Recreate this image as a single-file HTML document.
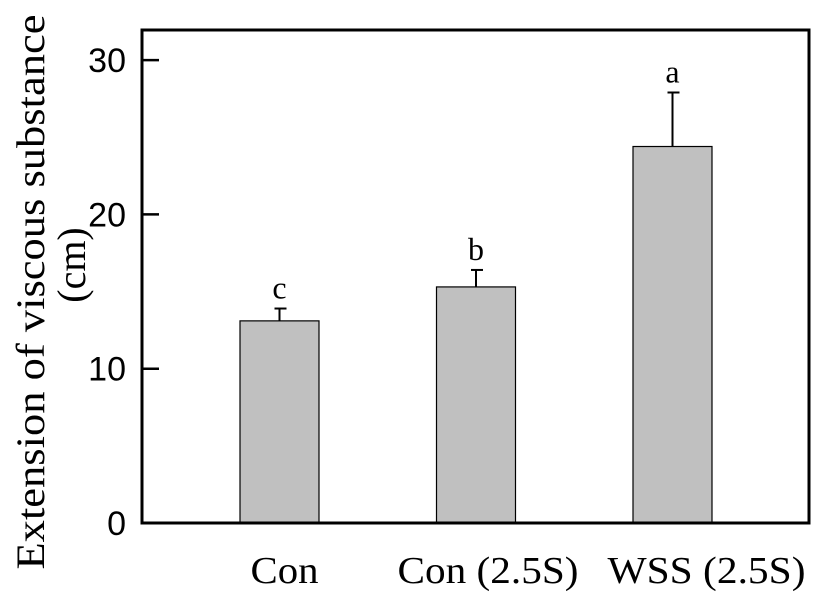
<!DOCTYPE html>
<html><head><meta charset="utf-8"><style>
html,body{margin:0;padding:0;background:#fff;}
svg{display:block;}
</style></head><body>
<svg width="827" height="606" viewBox="0 0 827 606" id="chart">
<rect x="0" y="0" width="827" height="606" fill="#fff"/>
<g id="bars"></g>
<g id="yaxis"></g>
<g id="xaxis"></g>
<rect x="142" y="30" width="667" height="493" fill="none" stroke="#000" stroke-width="3"/>
<text transform="translate(44,292) rotate(-90)" text-anchor="middle" font-family="Liberation Serif, serif" font-size="40" textLength="555" lengthAdjust="spacingAndGlyphs" fill="#000">Extension of viscous substance</text>
<text transform="translate(85,265) rotate(-90)" text-anchor="middle" font-family="Liberation Serif, serif" font-size="40" fill="#000">(cm)</text>
</svg>
<script>
const categories = ["Con", "Con (2.5S)", "WSS (2.5S)"];
const means = [13.1, 15.3, 24.4];
const errors = [0.8, 1.1, 3.5];
const letters = ["c", "b", "a"];
const yTicks = [0, 10, 20, 30];

const NS = "http://www.w3.org/2000/svg";
const y0 = 523, pxPerUnit = 15.43;
function yScale(v){ return y0 - v * pxPerUnit; }
const centers0 = 279.5, step = 196.5, barW = 79;
function xScale(i){ return centers0 + i * step; }
const labelShift = [5, 12, 34];
const labelLen = [68, 181, 198];
function mk(tag, attrs, parent){ const e=document.createElementNS(NS,tag); for(const k in attrs) e.setAttribute(k, attrs[k]); parent.appendChild(e); return e; }

const bars = document.getElementById('bars');
categories.forEach((c,i)=>{
  const cx = xScale(i), top = yScale(means[i]), et = yScale(means[i]+errors[i]);
  const ln = mk('line',{x1:cx,x2:cx,y1:top,y2:et,stroke:'#000','stroke-width':2},bars);
  
  
  const cap = mk('line',{x1:cx-5,x2:cx+7,y1:et,y2:et,stroke:'#000','stroke-width':2},bars);
  
  
  const r = mk('rect',{x:cx-barW/2,y:top,width:barW,height:y0-top,fill:'#c0c0c0',stroke:'#000','stroke-width':1.2},bars);
  
  
  const t = mk('text',{x:cx,y:et-10,'text-anchor':'middle','font-family':'Liberation Serif, serif','font-size':32,fill:'#000'},bars);
  t.textContent = letters[i];
  
  
  const xl = mk('text',{x:cx+labelShift[i],y:583,'text-anchor':'middle','font-family':'Liberation Serif, serif','font-size':38,textLength:labelLen[i],lengthAdjust:'spacingAndGlyphs',fill:'#000'},document.getElementById('xaxis'));
  xl.textContent = c;
  
  
});
const ya = document.getElementById('yaxis');
yTicks.forEach(v=>{
  const y = yScale(v);
  if(v>0){
    const tk = mk('line',{x1:142,x2:159,y1:y,y2:y,stroke:'#000','stroke-width':2.5},ya);
    
    
  }
  const t = mk('text',{x:126,y:y+12,'text-anchor':'end','font-family':'Liberation Sans, sans-serif','font-size':34,fill:'#000'},ya);
  t.textContent = v;
  
  
});
</script>
</body></html>
